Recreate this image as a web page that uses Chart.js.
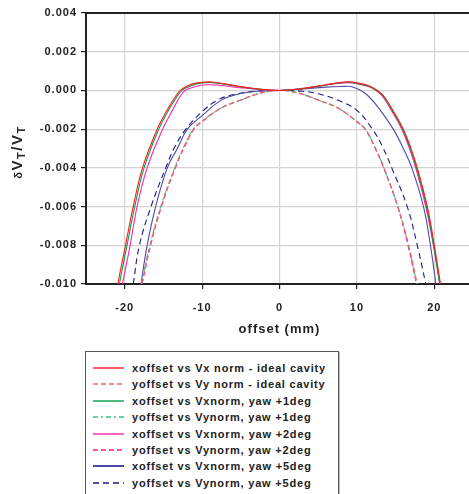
<!DOCTYPE html>
<html>
<head>
<meta charset="utf-8">
<script src="https://cdn.jsdelivr.net/npm/chart.js@4"></script>
<style>
  html, body { margin: 0; padding: 0; background: #fff; overflow: hidden; }
  body { width: 469px; height: 494px; position: relative; font-family: "Liberation Sans", Arial, sans-serif; }
  #wrap { position: absolute; left: 0; top: 0; width: 473px; height: 342px; }
  #ylabel {
    position: absolute; left: -33px; top: 142px; width: 100px; height: 20px; line-height: 20px;
    text-align: center; transform: rotate(-90deg);
    font-weight: bold; font-size: 15px; letter-spacing: 1.5px; color: #222; white-space: nowrap;
  }
  #ylabel sub { font-size: 11px; vertical-align: -3px; line-height: 0; }
  #ylabel .d { font-size: 11px; }
  #legend {
    position: absolute; left: 85px; top: 351px; width: 252px; height: 160px;
    border: 1.5px solid #555; box-shadow: 1px 1px 0 #bbb;
  }
  .row { position: absolute; left: 0; height: 16px; width: 100%; }
  .row svg { position: absolute; left: 7px; top: 5px; }
  .row span { position: absolute; left: 46px; top: 0; font-weight: bold; font-size: 11px; letter-spacing: 0.8px; color: #222; white-space: nowrap; line-height: 16px; }
</style>
</head>
<body>
<div id="wrap"><canvas id="chart"></canvas></div>
<div id="ylabel"><span class="d">&delta;</span>V<sub>T</sub>/V<sub>T</sub></div>
<div id="legend"></div>
<script>
// offset (mm) and dVT/VT, one pair of lists per curve
const xIdealOff = [-20.9, -19.9, -18.9, -17.7, -15.8, -14.5, -13.5, -12.8, -11.5, -10.0, -9.0, -7.5, -6.0, -4.0, -2.0, 0, 2.0, 4.0, 6.0, 7.5, 8.9, 10.0, 11.7, 12.8, 13.5, 14.75, 16.0, 16.9, 17.8, 19.1, 20.0, 20.8];
const xIdealVal = [-0.010, -0.008, -0.006, -0.004, -0.002, -0.001, -0.00035, 0.0, 0.0003, 0.00042, 0.00044, 0.00037, 0.00026, 0.00014, 0.00004, 0, 0.00005, 0.00016, 0.00029, 0.0004, 0.00044, 0.00039, 0.00022, -0.00005, -0.0003, -0.0011, -0.002, -0.0029, -0.004, -0.006, -0.008, -0.010];

const yIdealOff = [-17.8, -16.7, -15.3, -13.5, -12.3, -11.1, -10.0, -7.5, -5.0, -3.0, -1.0, 0, 1.0, 3.0, 5.0, 7.5, 10.0, 11.1, 12.3, 13.5, 15.3, 16.7, 17.8];
const yIdealVal = [-0.010, -0.008, -0.006, -0.004, -0.0029, -0.002, -0.0016, -0.0009, -0.0005, -0.0002, -0.00002, 0, -0.00002, -0.0002, -0.0005, -0.0009, -0.0016, -0.002, -0.0029, -0.004, -0.006, -0.008, -0.010];

const xYaw1Off = [-20.7, -19.7, -18.7, -17.5, -15.6, -14.3, -13.3, -12.6, -11.3, -10.0, -9.0, -7.5, -6.0, -4.0, -2.0, 0, 2.0, 4.0, 6.0, 7.5, 8.9, 10.0, 11.6, 12.7, 13.4, 14.65, 15.9, 16.8, 17.7, 19.0, 19.9, 20.7];
const xYaw1Val = [-0.010, -0.008, -0.006, -0.004, -0.002, -0.001, -0.00035, 0.0, 0.00026, 0.00039, 0.00041, 0.00035, 0.00024, 0.00013, 0.00004, 0, 0.00005, 0.00015, 0.00028, 0.00038, 0.00042, 0.00036, 0.0002, -0.00005, -0.0003, -0.0011, -0.002, -0.0029, -0.004, -0.006, -0.008, -0.010];

const yYaw1Off = [-17.85, -16.75, -15.35, -13.55, -12.35, -11.15, -10.0, -7.5, -5.0, -3.0, -1.0, 0, 1.0, 3.0, 5.0, 7.5, 10.0, 11.1, 12.3, 13.5, 15.3, 16.65, 17.75];
const yYaw1Val = [-0.010, -0.008, -0.006, -0.004, -0.0029, -0.002, -0.00158, -0.0009, -0.0005, -0.0002, -0.00002, 0, -0.00002, -0.0002, -0.0005, -0.0009, -0.0016, -0.002, -0.0029, -0.004, -0.006, -0.008, -0.010];

const xYaw2Off = [-20.3, -19.3, -18.4, -17.1, -15.1, -13.8, -12.9, -12.2, -10.8, -9.5, -8.0, -6.0, -4.0, -2.0, 0, 2.0, 4.0, 6.0, 7.5, 8.9, 10.0, 11.6, 12.6, 13.3, 14.55, 15.8, 16.7, 17.6, 18.9, 19.9, 20.7];
const xYaw2Val = [-0.010, -0.008, -0.006, -0.004, -0.002, -0.001, -0.00035, 0.0, 0.0002, 0.00029, 0.00028, 0.00018, 0.0001, 0.00003, 0, 0.00006, 0.00016, 0.00028, 0.00036, 0.0004, 0.00035, 0.00019, -0.00005, -0.0003, -0.0011, -0.002, -0.0029, -0.004, -0.006, -0.008, -0.010];

const yYaw2Off = [-17.75, -16.65, -15.25, -13.45, -12.25, -11.05, -10.0, -7.5, -5.0, -3.0, -1.0, 0, 1.0, 3.0, 5.0, 7.5, 10.0, 11.05, 12.25, 13.45, 15.25, 16.6, 17.7];
const yYaw2Val = [-0.010, -0.008, -0.006, -0.004, -0.0029, -0.002, -0.00162, -0.0009, -0.0005, -0.0002, -0.00002, 0, -0.00002, -0.0002, -0.0005, -0.0009, -0.00162, -0.002, -0.0029, -0.004, -0.006, -0.008, -0.010];

const xYaw5Off = [-17.9, -17.1, -16.0, -14.5, -13.2, -11.9, -10.0, -7.5, -5.0, -3.0, 0, 3.0, 6.0, 8.0, 9.2, 10.5, 11.5, 12.8, 14.7, 16.0, 17.1, 18.6, 19.5, 20.2];
const xYaw5Val = [-0.010, -0.008, -0.006, -0.004, -0.003, -0.002, -0.0013, -0.0005, -0.00016, -0.00004, 0, 0.00008, 0.00017, 0.0002, 0.0002, 0.0, -0.0003, -0.0009, -0.002, -0.003, -0.004, -0.006, -0.008, -0.010];

const yYaw5Off = [-18.9, -18.1, -16.6, -14.7, -13.5, -12.1, -10.0, -8.0, -6.0, -3.0, 0, 3.0, 5.0, 7.5, 10.0, 12.0, 13.3, 14.5, 16.5, 17.8, 18.9];
const yYaw5Val = [-0.010, -0.008, -0.006, -0.004, -0.0029, -0.002, -0.0011, -0.0005, -0.00022, -0.00004, 0, -0.00004, -0.00017, -0.0005, -0.00103, -0.002, -0.0029, -0.004, -0.006, -0.008, -0.010];

const xTicks = [-20, -10, 0, 10, 20];
const yTicks = [0.004, 0.002, 0.000, -0.002, -0.004, -0.006, -0.008, -0.010];

const SERIES = [
  { name: 'xoffset vs Vx norm - ideal cavity', off: xIdealOff, val: xIdealVal, color: '#ff1a1a', dash: [] },
  { name: 'yoffset vs Vy norm - ideal cavity', off: yIdealOff, val: yIdealVal, color: '#f26a6a', dash: [5, 3] },
  { name: 'xoffset vs Vxnorm, yaw +1deg', off: xYaw1Off, val: xYaw1Val, color: '#00a04a', dash: [] },
  { name: 'yoffset vs Vynorm, yaw +1deg', off: yYaw1Off, val: yYaw1Val, color: '#3cc080', dash: [5, 3, 2, 3] },
  { name: 'xoffset vs Vxnorm, yaw +2deg', off: xYaw2Off, val: xYaw2Val, color: '#ff22aa', dash: [] },
  { name: 'yoffset vs Vynorm, yaw +2deg', off: yYaw2Off, val: yYaw2Val, color: '#ff1493', dash: [5, 3] },
  { name: 'xoffset vs Vxnorm, yaw +5deg', off: xYaw5Off, val: xYaw5Val, color: '#4a4aa8', dash: [] },
  { name: 'yoffset vs Vynorm, yaw +5deg', off: yYaw5Off, val: yYaw5Val, color: '#1c1c7c', dash: [6, 4] }
];

// canvas letter spacing, the picture's text is spaced out
const spacing = {
  id: 'spacing',
  beforeUpdate(c) { c.ctx.letterSpacing = '1px'; },
  beforeDraw(c) { c.ctx.letterSpacing = '1px'; }
};

const datasets = SERIES.map(s => ({
  label: s.name,
  data: s.off.map((x, i) => ({ x, y: s.val[i] })),
  borderColor: s.color,
  borderWidth: 1.1,
  borderDash: s.dash,
  pointRadius: 0,
  fill: false,
  tension: 0.4
}));

const tickFont = { family: '"Liberation Sans", Arial, sans-serif', size: 11, weight: 'bold' };

new Chart(document.getElementById('chart'), {
  type: 'line',
  data: { datasets },
  plugins: [spacing],
  options: {
    responsive: true,
    maintainAspectRatio: false,
    animation: false,
    layout: { padding: { top: 13, right: 0, left: 0, bottom: 0 } },
    plugins: { legend: { display: false }, tooltip: { enabled: false } },
    scales: {
      x: {
        type: 'linear', min: -25, max: 25,
        afterBuildTicks: a => { a.ticks = xTicks.map(v => ({ value: v })); },
        afterFit: a => { a.height = 58; },
        grid: { color: '#d4d4d4', lineWidth: 1.2, tickColor: '#222', tickLength: 5 },
        border: { color: '#222', width: 2 },
        ticks: { color: '#222', font: tickFont, padding: 12, maxRotation: 0 },
        title: { display: true, text: 'offset (mm)', color: '#222', padding: { top: 0, bottom: 5 },
          font: { family: '"Liberation Sans", Arial, sans-serif', size: 13, weight: 'bold' } }
      },
      x2: {
        type: 'linear', position: 'top', min: -25, max: 25,
        afterFit: a => { a.height = 0; },
        grid: { display: false, drawTicks: false },
        border: { color: '#222', width: 2 },
        ticks: { display: false }
      },
      y: {
        type: 'linear', min: -0.010, max: 0.004,
        afterBuildTicks: a => { a.ticks = yTicks.map(v => ({ value: v })); },
        afterFit: a => { a.width = 86; },
        grid: { color: '#d4d4d4', lineWidth: 1.2, tickColor: '#222', tickLength: 5 },
        border: { color: '#222', width: 2 },
        ticks: { color: '#222', font: tickFont, padding: 4, callback: v => v.toFixed(3) }
      }
    }
  }
});

// legend box below the chart
const legendEl = document.getElementById('legend');
SERIES.forEach((s, i) => {
  const row = document.createElement('div');
  row.className = 'row';
  row.style.top = (8 + i * 16.4) + 'px';
  const dash = s.dash.length ? `stroke-dasharray="${s.dash.join(' ')}"` : '';
  const w = i === 6 ? 2 : 1.4;
  row.innerHTML = `<svg width="32" height="6"><line x1="0" y1="3" x2="31" y2="3" stroke="${s.color}" stroke-width="${w}" ${dash}/></svg><span>${s.name}</span>`;
  legendEl.appendChild(row);
});
</script>
</body>
</html>
